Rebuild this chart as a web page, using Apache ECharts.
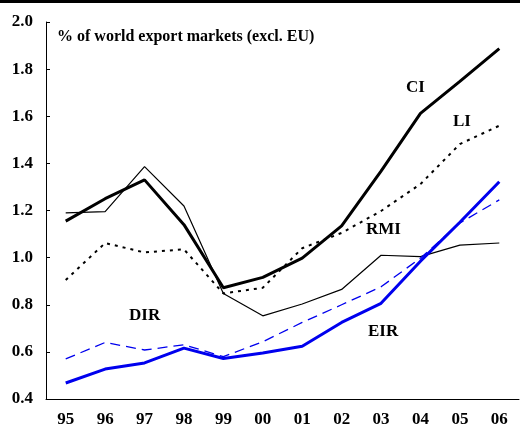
<!DOCTYPE html>
<html>
<head>
<meta charset="UTF-8">
<title>World export market shares</title>
<script src="https://cdn.jsdelivr.net/npm/echarts@6/dist/echarts.min.js"></script>
<style>
  html, body { margin: 0; padding: 0; background: #fff; }
  #chart { width: 520px; height: 428px; }
</style>
</head>
<body>
<div id="chart"></div>
<script>
// years on the x axis
var years = ['95', '96', '97', '98', '99', '00', '01', '02', '03', '04', '05', '06'];
// share of world export markets (excl. EU), %
var ci  = [1.155, 1.25, 1.33, 1.14, 0.872, 0.916, 0.998, 1.135, 1.367, 1.612, 1.748, 1.887];
var rmi = [1.19, 1.195, 1.386, 1.219, 0.848, 0.753, 0.803, 0.865, 1.01, 1.004, 1.053, 1.062];
var li  = [0.905, 1.062, 1.022, 1.035, 0.848, 0.872, 1.04, 1.105, 1.198, 1.312, 1.482, 1.56];
var dir = [0.570, 0.640, 0.608, 0.630, 0.580, 0.643, 0.725, 0.800, 0.876, 0.998, 1.147, 1.245];
var eir = [0.468, 0.527, 0.553, 0.616, 0.572, 0.595, 0.624, 0.725, 0.806, 0.985, 1.15, 1.322];

var serif = '"Liberation Serif", "Times New Roman", serif';
var chart = echarts.init(document.getElementById('chart'));

function line(name, data, color, width, type) {
    return {
        name: name,
        type: 'line',
        data: data,
        symbol: 'none',
        lineStyle: { color: color, width: width, type: type }
    };
}

function tag(text, x, y) {
    return { type: 'text', left: x, top: y, style: { text: text, fill: '#000', font: 'bold 17px ' + serif } };
}

var option = {
    backgroundColor: '#fff',
    animation: false,
    grid: { left: 46, right: 1, top: 22, bottom: 29, containLabel: false },
    xAxis: {
        type: 'category',
        data: years,
        boundaryGap: true,
        axisLine: { lineStyle: { color: '#000', width: 1 } },
        axisTick: { inside: true, length: 4, lineStyle: { color: '#000' } },
        axisLabel: { color: '#000', fontFamily: serif, fontWeight: 'bold', fontSize: 17, margin: 12 },
        splitLine: { show: false }
    },
    yAxis: {
        type: 'value',
        min: 0.4,
        max: 2.0,
        interval: 0.2,
        axisLine: { show: true, lineStyle: { color: '#000', width: 1 } },
        axisTick: { show: true, inside: true, length: 4, lineStyle: { color: '#000' } },
        axisLabel: {
            color: '#000', fontFamily: serif, fontWeight: 'bold', fontSize: 17, margin: 13,
            formatter: function (v) { return v.toFixed(1); }
        },
        splitLine: { show: false }
    },
    series: [
        line('RMI', rmi, '#000', 1.2, 'solid'),
        line('LI', li, '#000', 2, [3, 5]),
        line('DIR', dir, '#0000ee', 1.3, [10, 6]),
        line('EIR', eir, '#0000ee', 3, 'solid'),
        line('CI', ci, '#000', 3, 'solid')
    ],
    graphic: [
        { type: 'rect', left: 0, top: 0, shape: { width: 520, height: 3 }, style: { fill: '#000' } },
        { type: 'text', left: 57, top: 29, style: { text: '% of world export markets (excl. EU)', fill: '#000', font: 'bold 16px ' + serif } },
        tag('CI', 406, 79),
        tag('LI', 453, 113),
        tag('RMI', 366, 221),
        tag('DIR', 129, 307),
        tag('EIR', 368, 323)
    ]
};
chart.setOption(option);
</script>
</body>
</html>
